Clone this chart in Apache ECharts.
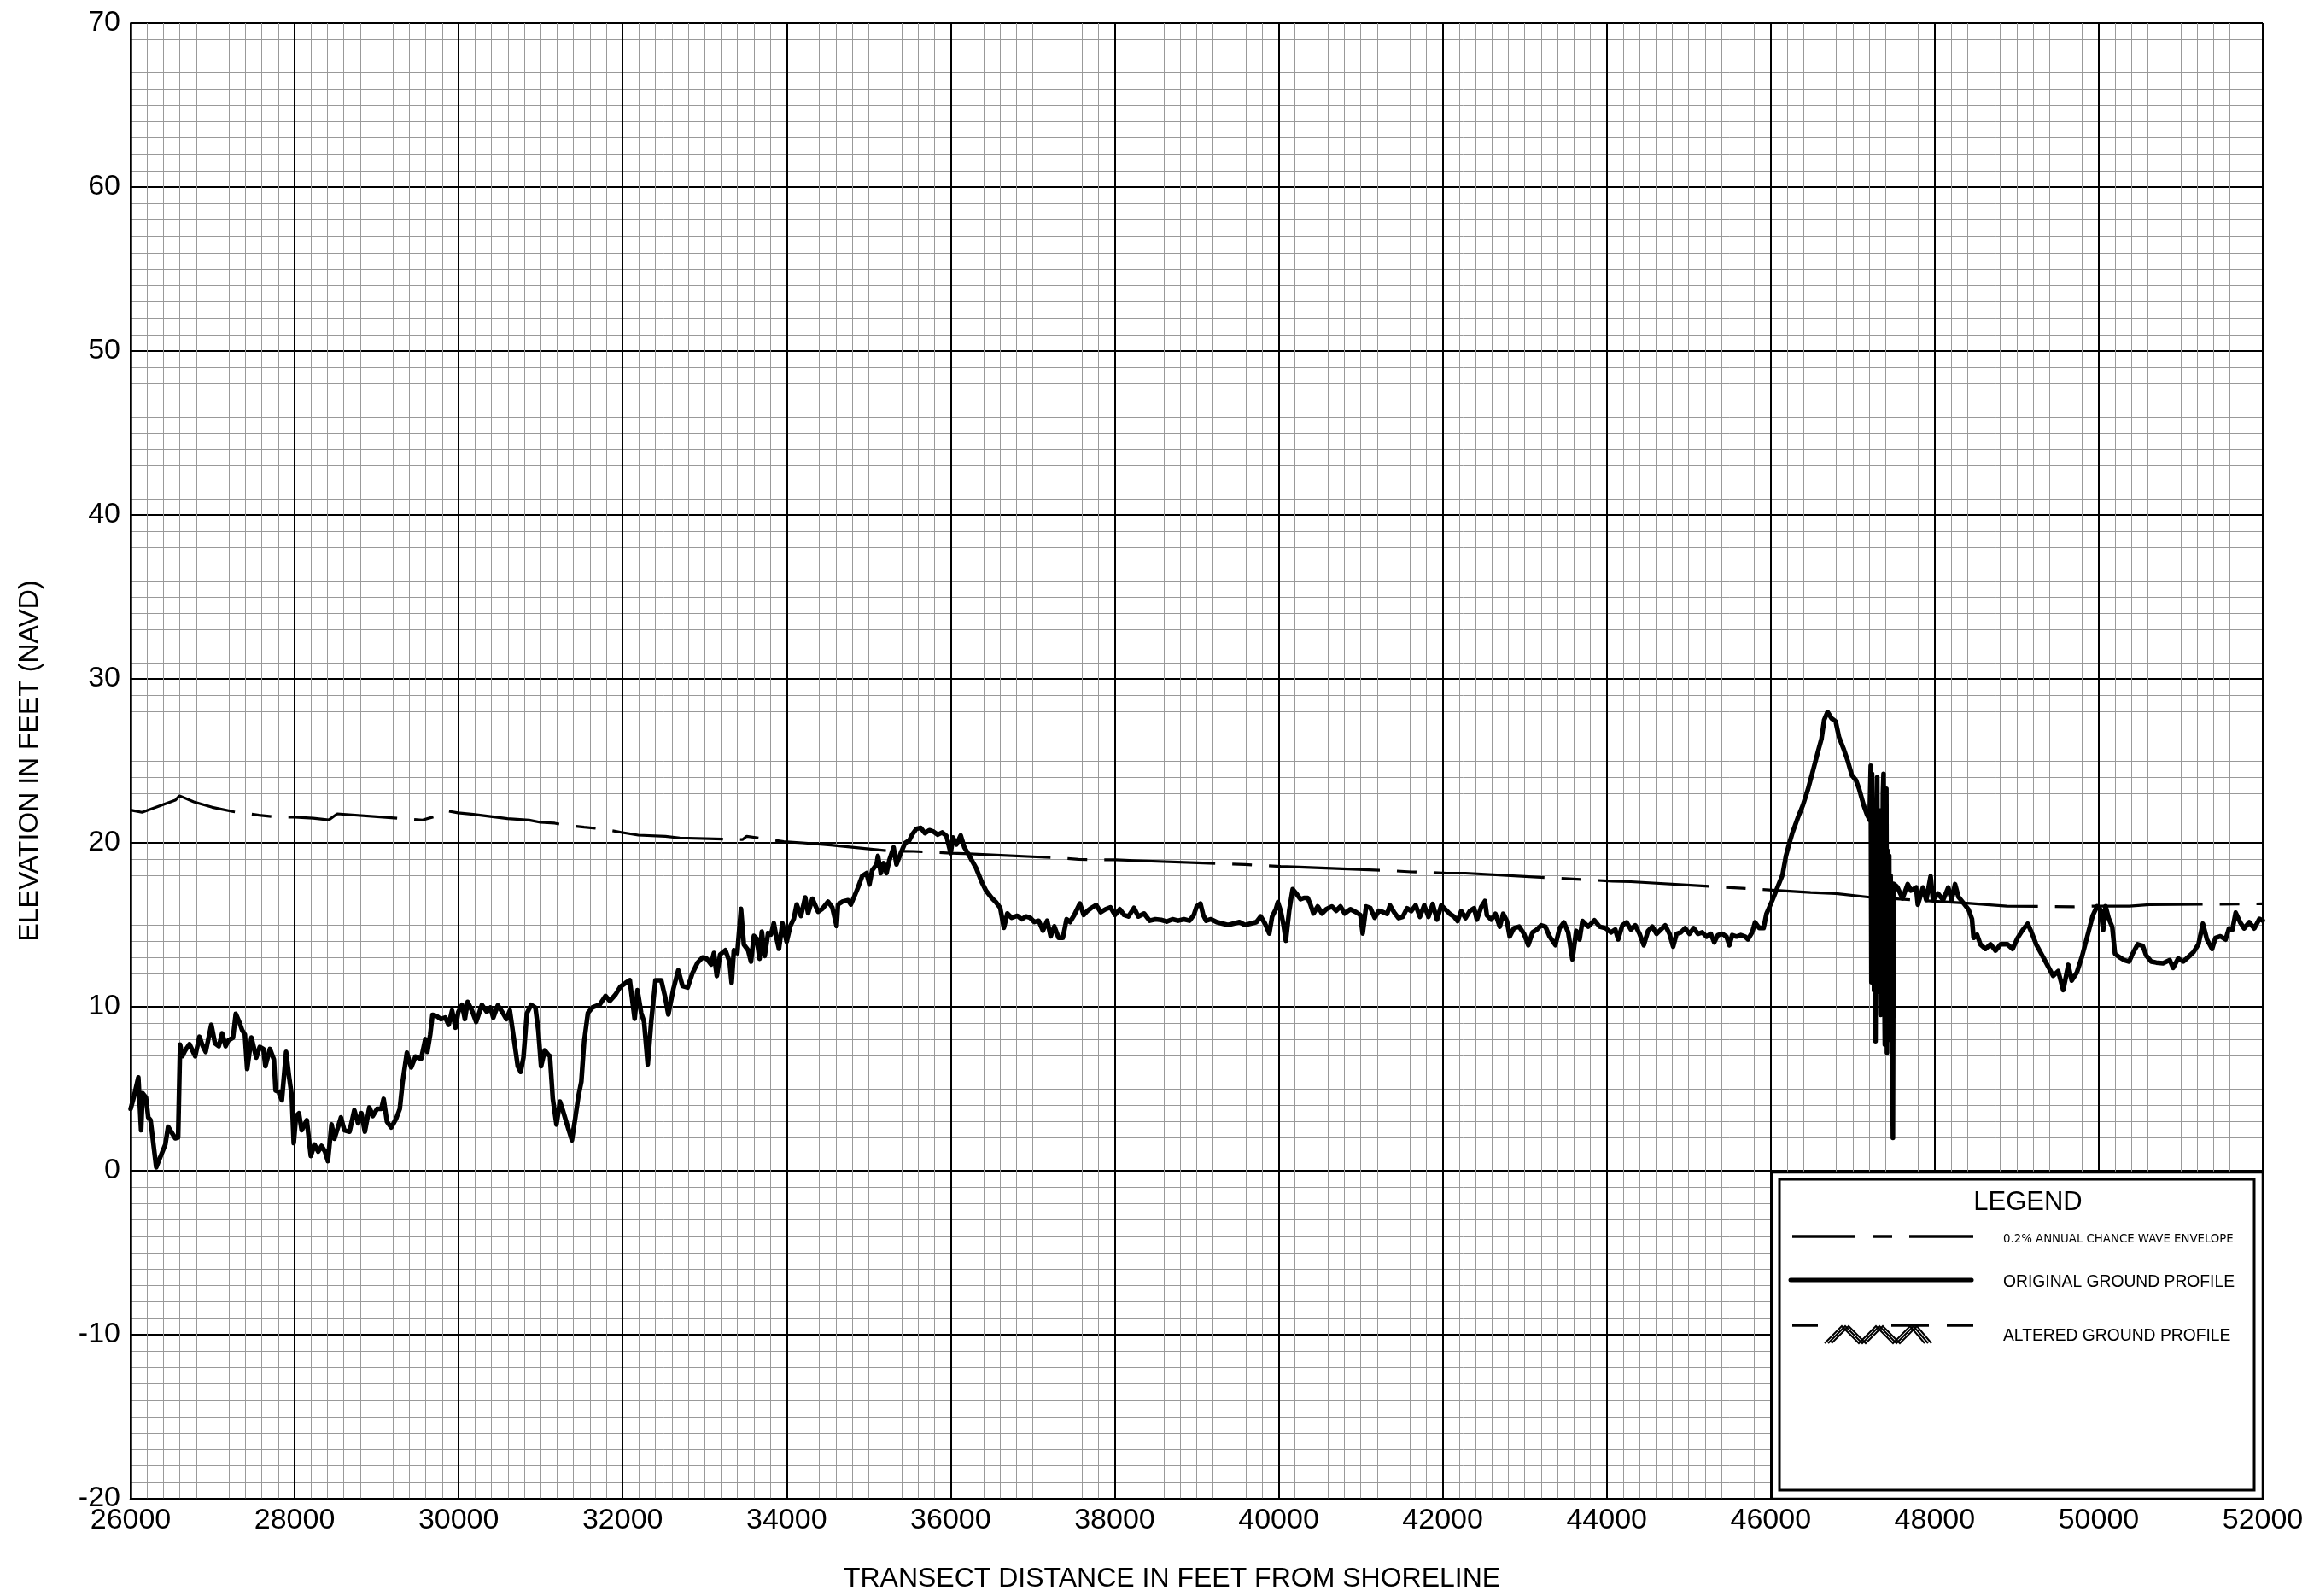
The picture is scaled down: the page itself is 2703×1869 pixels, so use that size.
<!DOCTYPE html>
<html>
<head>
<meta charset="utf-8">
<script src="https://cdn.jsdelivr.net/npm/echarts@6.0.0/dist/echarts.min.js"></script>
<style>
html,body{margin:0;padding:0;background:#fff;}
#chart{width:2703px;height:1869px;}
</style>
</head>
<body>
<div id="chart"></div>
<script>
// ---------- DATA ----------
const xAxisRange = [26000, 52000];
const xTickStep = 2000;
const yAxisRange = [-20, 70];
const yTickStep = 10;

const xAxisTitle = 'TRANSECT DISTANCE IN FEET FROM SHORELINE';
const yAxisTitle = 'ELEVATION IN FEET (NAVD)';
const legendTitle = 'LEGEND';
const legendLabels = ['0.2% ANNUAL CHANCE WAVE ENVELOPE', 'ORIGINAL GROUND PROFILE', 'ALTERED GROUND PROFILE'];

// 0.2% annual chance wave envelope [distance ft, elevation ft]
const waveEnvelope = [
 [26000,22.0],[26139,21.86],[26544,22.6],[26596,22.87],[26770,22.5],[26995,22.17],[27255,21.9],[27567,21.69],
 [27775,21.57],[28000,21.57],[28225,21.5],[28416,21.4],[28520,21.77],[29560,21.39],[29750,21.67],[29854,21.95],
 [29993,21.83],[30180,21.74],[30596,21.48],[30860,21.39],[30998,21.25],[31171,21.2],[31270,21.1],[31530,20.96],
 [31739,20.85],[31983,20.64],[32191,20.47],[32522,20.4],[32696,20.3],[33461,20.2],[33513,20.4],[33739,20.24],
 [33965,20.07],[34191,20.0],[34539,19.86],[35269,19.5],[35548,19.48],[35757,19.43],[36000,19.37],[36170,19.34],
 [37316,19.08],[37559,18.99],[38010,18.96],[38236,18.92],[39590,18.68],[40024,18.56],[40250,18.52],[41378,18.30],
 [41617,18.23],[42052,18.15],[42278,18.15],[43635,17.78],[44070,17.66],[44295,17.63],[45652,17.23],[46104,17.09],
 [46487,16.97],[46793,16.91],[47210,16.68],[48393,16.32],[48880,16.14],[49697,16.1],[49923,16.14],[50149,16.14],
 [50375,16.14],[50619,16.23],[52000,16.28]
];

// Original ground profile [distance ft, elevation ft]
const groundProfile = [
 [26000,3.77],[26042,4.56],[26094,5.69],[26128,2.47],[26146,4.73],[26187,4.47],[26215,3.25],[26243,3.08],[26312,0.21],
 [26423,1.6],[26457,2.68],[26544,1.98],[26579,2.03],[26603,7.69],[26631,6.99],[26665,7.34],[26717,7.72],[26787,6.99],
 [26839,8.17],[26880,7.6],[26915,7.25],[26984,8.9],[27029,7.77],[27075,7.6],[27116,8.38],[27158,7.6],[27192,7.95],
 [27248,8.12],[27282,9.57],[27324,9.08],[27359,8.59],[27393,8.3],[27421,6.21],[27473,8.12],[27532,6.9],[27574,7.55],
 [27619,7.43],[27643,6.38],[27698,7.43],[27747,6.78],[27767,4.9],[27802,4.82],[27844,4.3],[27896,7.25],[27931,5.77],
 [27965,4.56],[27989,1.69],[28017,3.34],[28052,3.51],[28086,2.47],[28148,3.08],[28197,0.9],[28242,1.6],[28287,1.17],
 [28329,1.51],[28370,1.17],[28405,0.59],[28450,2.82],[28485,1.95],[28565,3.25],[28606,2.47],[28669,2.38],[28728,3.69],
 [28773,2.9],[28814,3.51],[28856,2.38],[28911,3.86],[28953,3.34],[29005,3.77],[29057,3.77],[29085,4.38],[29126,2.99],
 [29178,2.64],[29237,3.17],[29282,3.77],[29317,5.43],[29369,7.2],[29421,6.3],[29473,6.96],[29542,6.82],[29594,8.03],
 [29618,7.25],[29653,8.3],[29681,9.51],[29733,9.43],[29785,9.25],[29837,9.34],[29878,8.9],[29920,9.77],[29961,8.73],
 [29996,9.69],[30041,10.12],[30076,9.25],[30110,10.3],[30162,9.77],[30214,9.08],[30284,10.12],[30343,9.69],[30387,9.95],
 [30422,9.34],[30478,10.09],[30530,9.69],[30582,9.25],[30624,9.77],[30669,8.21],[30721,6.38],[30756,6.03],[30790,6.9],
 [30832,9.6],[30884,10.12],[30936,9.95],[30971,8.56],[31005,6.38],[31050,7.34],[31092,7.08],[31113,7.0],[31148,4.39],
 [31193,2.82],[31235,4.22],[31270,3.69],[31322,2.82],[31381,1.86],[31426,3.34],[31461,4.56],[31496,5.43],[31530,7.87],
 [31576,9.62],[31635,9.97],[31722,10.14],[31791,10.66],[31843,10.35],[31913,10.75],[31972,11.22],[32035,11.45],
 [32087,11.62],[32146,9.27],[32181,11.01],[32226,9.62],[32261,9.09],[32306,6.48],[32348,9.09],[32400,11.62],
 [32470,11.62],[32515,10.66],[32557,9.53],[32619,11.1],[32678,12.23],[32730,11.27],[32793,11.18],[32852,12.06],
 [32911,12.67],[32974,13.01],[33026,12.93],[33078,12.58],[33113,13.28],[33148,11.88],[33189,13.19],[33252,13.45],
 [33304,12.75],[33329,11.45],[33356,13.45],[33398,13.28],[33443,15.98],[33478,13.8],[33530,13.45],[33565,12.75],
 [33600,14.32],[33635,14.15],[33669,12.93],[33697,14.58],[33732,13.1],[33774,14.5],[33809,14.41],[33843,15.1],
 [33878,14.15],[33906,13.54],[33948,15.1],[34000,13.97],[34045,14.93],[34087,15.37],[34122,16.24],[34174,15.54],
 [34226,16.67],[34261,15.71],[34313,16.59],[34383,15.8],[34435,15.98],[34504,16.41],[34556,16.06],[34609,14.93],
 [34626,16.24],[34678,16.41],[34748,16.5],[34783,16.24],[34835,16.85],[34870,17.28],[34922,17.98],[34974,18.15],
 [35009,17.46],[35043,18.33],[35096,18.68],[35113,19.2],[35148,18.15],[35183,18.76],[35217,18.15],[35252,18.94],
 [35304,19.72],[35339,18.68],[35391,19.37],[35443,19.98],[35496,20.16],[35530,20.5],[35582,20.85],[35635,20.91],
 [35687,20.59],[35739,20.77],[35791,20.68],[35843,20.5],[35896,20.63],[35948,20.42],[36000,19.37],[36028,20.33],
 [36070,19.9],[36122,20.45],[36167,19.72],[36209,19.37],[36261,18.9],[36309,18.47],[36379,17.6],[36431,17.08],
 [36500,16.64],[36552,16.38],[36604,16.03],[36649,14.82],[36691,15.69],[36743,15.43],[36813,15.55],[36865,15.34],
 [36917,15.51],[36969,15.43],[37021,15.17],[37073,15.25],[37125,14.64],[37177,15.25],[37219,14.3],[37264,14.9],
 [37316,14.21],[37368,14.21],[37413,15.34],[37455,15.17],[37507,15.6],[37576,16.3],[37622,15.6],[37670,15.86],
 [37715,16.03],[37774,16.21],[37830,15.77],[37889,15.95],[37948,16.07],[38003,15.6],[38062,15.95],[38115,15.6],
 [38167,15.51],[38236,16.03],[38288,15.51],[38358,15.69],[38427,15.25],[38496,15.34],[38566,15.3],[38635,15.2],
 [38705,15.34],[38774,15.25],[38844,15.34],[38913,15.25],[38965,15.6],[39000,16.12],[39045,16.3],[39080,15.6],
 [39115,15.25],[39174,15.34],[39243,15.17],[39312,15.08],[39382,14.99],[39451,15.08],[39521,15.17],[39590,14.99],
 [39660,15.08],[39729,15.17],[39781,15.51],[39833,15.08],[39885,14.47],[39920,15.51],[39965,15.95],[39990,16.38],
 [40024,15.86],[40059,14.99],[40087,14.03],[40128,15.86],[40170,17.17],[40215,16.9],[40267,16.56],[40309,16.64],
 [40354,16.64],[40389,16.21],[40424,15.69],[40476,16.12],[40528,15.69],[40580,15.95],[40649,16.12],[40701,15.86],
 [40753,16.12],[40805,15.69],[40874,15.95],[40944,15.77],[40996,15.6],[41024,14.47],[41066,16.12],[41118,16.03],
 [41170,15.43],[41222,15.86],[41274,15.77],[41322,15.67],[41357,16.19],[41409,15.75],[41461,15.41],[41513,15.49],
 [41565,16.01],[41617,15.84],[41670,16.19],[41722,15.49],[41774,16.19],[41826,15.49],[41878,16.27],[41930,15.32],
 [41983,16.19],[42035,15.93],[42087,15.67],[42139,15.49],[42181,15.23],[42226,15.84],[42278,15.41],[42330,15.84],
 [42383,16.01],[42417,15.32],[42470,16.1],[42515,16.45],[42539,15.58],[42591,15.32],[42643,15.67],[42696,14.89],
 [42737,15.67],[42783,15.23],[42817,14.28],[42870,14.8],[42932,14.89],[42991,14.45],[43043,13.76],[43096,14.54],
 [43148,14.71],[43200,14.97],[43252,14.89],[43304,14.28],[43374,13.76],[43426,14.8],[43478,15.15],[43530,14.54],
 [43582,12.89],[43628,14.63],[43669,14.11],[43704,15.23],[43774,14.89],[43850,15.28],[43913,14.89],[43983,14.8],
 [44052,14.54],[44104,14.71],[44139,14.11],[44191,14.97],[44243,15.15],[44295,14.71],[44348,14.97],[44400,14.45],
 [44452,13.76],[44504,14.63],[44556,14.89],[44608,14.45],[44661,14.71],[44713,14.97],[44765,14.45],[44810,13.67],
 [44852,14.45],[44904,14.54],[44956,14.8],[45009,14.45],[45061,14.8],[45113,14.45],[45165,14.54],[45217,14.28],
 [45269,14.45],[45311,13.93],[45356,14.37],[45409,14.45],[45461,14.28],[45496,13.76],[45530,14.37],[45583,14.28],
 [45635,14.37],[45687,14.28],[45722,14.11],[45774,14.54],[45809,15.15],[45861,14.8],[45913,14.8],[45948,15.67],
 [46021,16.51],[46082,17.28],[46144,18.05],[46186,19.21],[46227,19.98],[46268,20.66],[46330,21.52],[46392,22.29],
 [46454,23.26],[46516,24.41],[46577,25.57],[46619,26.34],[46652,27.5],[46693,27.98],[46742,27.59],[46792,27.4],
 [46833,26.44],[46887,25.76],[46940,24.99],[46990,24.12],[47039,23.83],[47080,23.26],[47134,22.29],[47175,21.71],
 [47196,21.52],[47205,21.4],[47220,24.7],[47228,11.5],[47236,24.2],[47244,13],[47252,22],[47260,11],[47270,20],
 [47278,7.9],[47288,21],[47299,24.0],[47308,12],[47316,22],[47322,10.9],[47332,20],[47340,9.5],[47350,21],[47360,11],
 [47368,23],[47376,24.2],[47384,12],[47392,7.7],[47400,20],[47410,23.3],[47418,7.2],[47428,19.5],[47436,9],
 [47445,19.2],[47452,8],[47462,18],[47475,15],[47490,2.0],[47498,17.5],[47510,17.5],[47524,17.4],
 [47546,17.28],[47608,16.61],[47670,17.48],[47711,17.09],[47773,17.28],[47794,16.22],[47856,17.28],[47897,16.51],
 [47950,17.96],[47979,16.51],[48041,16.9],[48103,16.51],[48165,17.28],[48206,16.51],[48248,17.48],[48289,16.71],
 [48351,16.32],[48412,15.93],[48454,15.36],[48474,14.2],[48516,14.39],[48557,13.81],[48619,13.53],[48680,13.81],
 [48742,13.43],[48804,13.81],[48887,13.81],[48949,13.53],[49011,14.2],[49072,14.68],[49134,15.07],[49176,14.59],
 [49237,13.81],[49299,13.24],[49382,12.47],[49444,11.89],[49505,12.18],[49567,11.02],[49629,12.56],[49670,11.6],
 [49732,12.08],[49794,13.04],[49835,13.81],[49876,14.59],[49926,15.55],[49979,16.13],[50021,15.93],[50054,14.68],
 [50083,16.13],[50124,15.36],[50165,14.87],[50198,13.24],[50248,13.04],[50309,12.85],[50371,12.76],[50413,13.24],
 [50475,13.81],[50537,13.72],[50578,13.14],[50640,12.76],[50701,12.7],[50784,12.66],[50866,12.85],[50907,12.37],
 [50969,12.95],[51031,12.76],[51093,13.04],[51155,13.33],[51216,13.81],[51270,15.07],[51320,14.1],[51382,13.53],
 [51423,14.2],[51485,14.3],[51547,14.1],[51588,14.78],[51629,14.68],[51670,15.74],[51724,15.16],[51773,14.78],
 [51835,15.16],[51897,14.78],[51959,15.36],[52000,15.26]
];

// ---------- CHART ----------
const FONT = "'Liberation Sans', Arial, Helvetica, sans-serif";
const chart = echarts.init(document.getElementById('chart'), null, {renderer: 'canvas'});

// legend geometry (page pixels)
const LX = 2075, LY = 1373, LR = 2650, LB = 1755;
function hatch(offset) {
  const pts = [];
  const xs = [2137, 2157, 2177, 2197, 2217, 2237, 2254];
  xs.forEach((x, i) => pts.push([x + offset, i % 2 === 0 ? 1573 : 1553]));
  return pts;
}

const option = {
  animation: false,
  backgroundColor: '#ffffff',
  grid: {left: 153, right: 53, top: 27, bottom: 114, containLabel: false, outerBoundsMode: 'none'},
  xAxis: {
    type: 'value', min: xAxisRange[0], max: xAxisRange[1], interval: xTickStep,
    name: xAxisTitle, nameLocation: 'middle', nameGap: 78,
    nameTextStyle: {fontFamily: FONT, fontSize: 32, color: '#000', padding: [0, 58, 0, 0]},
    axisLine: {show: true, onZero: false, lineStyle: {color: '#000', width: 2.5}},
    axisTick: {show: false},
    axisLabel: {fontFamily: FONT, fontSize: 34, color: '#000', margin: 9, showMinLabel: true, showMaxLabel: true,
                formatter: v => String(v)},
    splitLine: {show: true, lineStyle: {color: '#000', width: 2}},
    minorTick: {show: false, splitNumber: 10},
    minorSplitLine: {show: true, lineStyle: {color: '#999999', width: 1}}
  },
  yAxis: {
    type: 'value', min: yAxisRange[0], max: yAxisRange[1], interval: yTickStep,
    name: yAxisTitle, nameLocation: 'middle', nameGap: 102,
    nameTextStyle: {fontFamily: FONT, fontSize: 32, color: '#000'},
    axisLine: {show: true, onZero: false, lineStyle: {color: '#000', width: 2.5}},
    axisTick: {show: false},
    axisLabel: {fontFamily: FONT, fontSize: 34, color: '#000', margin: 12, showMinLabel: true, showMaxLabel: true,
                formatter: v => String(v)},
    splitLine: {show: true, lineStyle: {color: '#000', width: 2}},
    minorTick: {show: false, splitNumber: 10},
    minorSplitLine: {show: true, lineStyle: {color: '#999999', width: 1}}
  },
  series: [
    {
      name: legendLabels[0], type: 'line', data: waveEnvelope, showSymbol: false, symbol: 'none',
      lineStyle: {color: '#000', width: 3.2, type: [130, 20, 23, 20], cap: 'butt'},
      z: 3, silent: true
    },
    {
      name: legendLabels[1], type: 'line', data: groundProfile, showSymbol: false, symbol: 'none',
      lineStyle: {color: '#000', width: 5.5, join: 'round', cap: 'round'},
      z: 4, silent: true
    }
  ],
  graphic: [
    {type: 'rect', z: 100, shape: {x: LX, y: LY, width: LR - LX, height: LB - LY},
     style: {fill: '#fff', stroke: '#000', lineWidth: 2.5}},
    {type: 'rect', z: 101, shape: {x: 2084, y: 1381, width: 2640 - 2084, height: 1745 - 1381},
     style: {fill: 'none', stroke: '#000', lineWidth: 3}},
    {type: 'text', z: 102, x: 2375, y: 1408,
     style: {text: legendTitle, fontFamily: FONT, fontSize: 31, fill: '#000', align: 'center', verticalAlign: 'middle'}},
    // row 1: wave envelope
    {type: 'line', z: 102, shape: {x1: 2099, y1: 1448, x2: 2173, y2: 1448}, style: {stroke: '#000', lineWidth: 3.5}},
    {type: 'line', z: 102, shape: {x1: 2193, y1: 1448, x2: 2216, y2: 1448}, style: {stroke: '#000', lineWidth: 3.5}},
    {type: 'line', z: 102, shape: {x1: 2236, y1: 1448, x2: 2311, y2: 1448}, style: {stroke: '#000', lineWidth: 3.5}},
    {type: 'text', z: 102, x: 2346, y: 1451,
     style: {text: legendLabels[0], fontFamily: "'Liberation Sans Narrow', 'DejaVu Sans Condensed', sans-serif", fontSize: 14.8, fill: '#000', align: 'left', verticalAlign: 'middle'}},
    // row 2: original ground
    {type: 'line', z: 102, shape: {x1: 2097, y1: 1499, x2: 2309, y2: 1499}, style: {stroke: '#000', lineWidth: 5, lineCap: 'round'}},
    {type: 'text', z: 102, x: 2346, y: 1502,
     style: {text: legendLabels[1], fontFamily: FONT, fontSize: 19.3, fill: '#000', align: 'left', verticalAlign: 'middle'}},
    // row 3: altered ground
    {type: 'line', z: 102, shape: {x1: 2099, y1: 1552, x2: 2129, y2: 1552}, style: {stroke: '#000', lineWidth: 3.5}},
    {type: 'line', z: 102, shape: {x1: 2215, y1: 1552, x2: 2259, y2: 1552}, style: {stroke: '#000', lineWidth: 3.5}},
    {type: 'line', z: 102, shape: {x1: 2280, y1: 1552, x2: 2311, y2: 1552}, style: {stroke: '#000', lineWidth: 3.5}},
    {type: 'polyline', z: 102, shape: {points: hatch(0)}, style: {stroke: '#000', lineWidth: 2, fill: 'none'}},
    {type: 'polyline', z: 102, shape: {points: hatch(4)}, style: {stroke: '#000', lineWidth: 2, fill: 'none'}},
    {type: 'polyline', z: 102, shape: {points: hatch(8)}, style: {stroke: '#000', lineWidth: 2, fill: 'none'}},
    {type: 'text', z: 102, x: 2346, y: 1565,
     style: {text: legendLabels[2], fontFamily: FONT, fontSize: 19.3, fill: '#000', align: 'left', verticalAlign: 'middle'}}
  ]
};
chart.setOption(option);
</script>
</body>
</html>
